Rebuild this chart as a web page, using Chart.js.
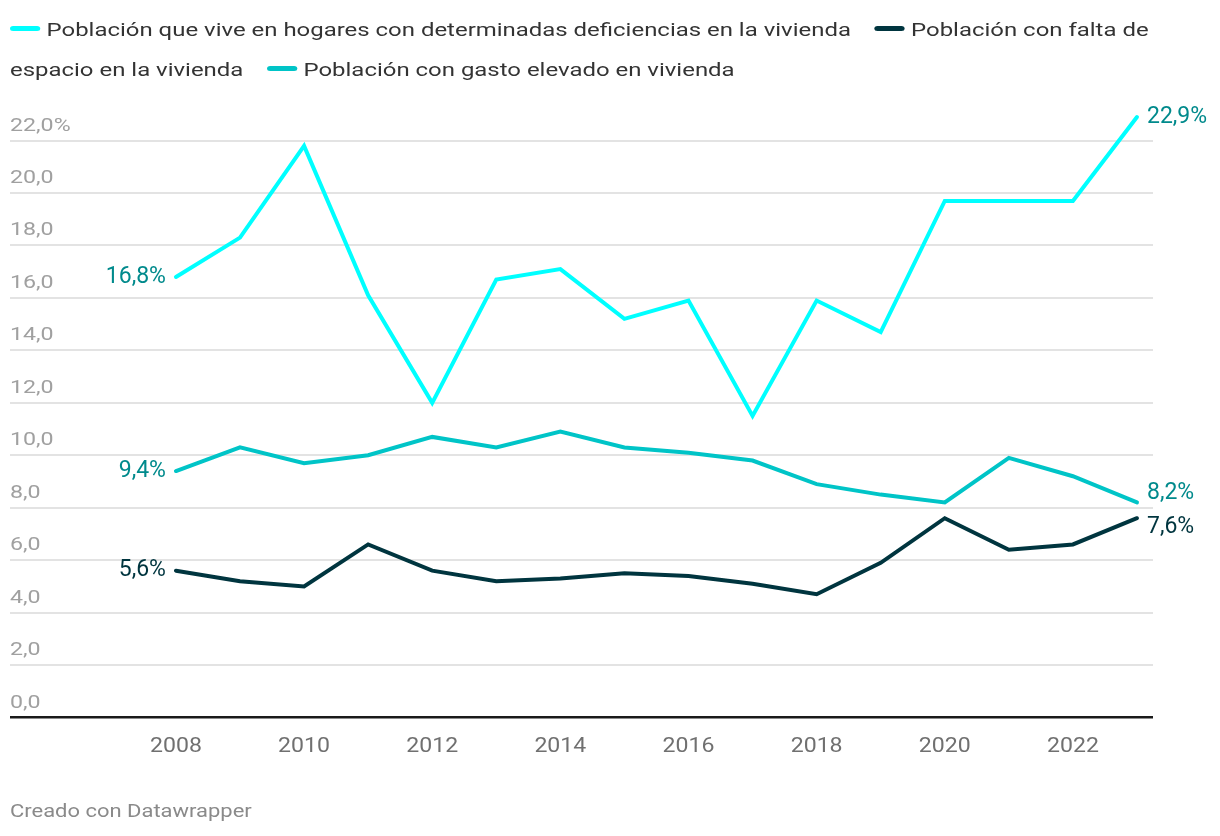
<!DOCTYPE html>
<html lang="es">
<head>
<meta charset="utf-8">
<script src="https://cdn.jsdelivr.net/npm/chart.js@4.4.1/dist/chart.umd.min.js"></script>
<style>
    html, body { margin: 0; padding: 0; background: #fff; }
    body { width: 1220px; height: 836px; position: relative; overflow: hidden; font-family: Roboto, "Noto Sans", sans-serif; }
    /* the original text runs wide, so the html text is stretched sideways */
    #legend { position: absolute; left: 10px; top: 10px; width: 952px; font-size: 19px; line-height: 40px; color: #333;
              transform: scaleX(1.26); transform-origin: 0 0; z-index: 2; }
    .item { margin-right: 14px; }
    .swatch { display: inline-block; width: 24px; height: 5px; border-radius: 3px; margin-right: 5px; position: relative; top: -5px; }
    #chart { position: absolute; left: 0; top: 0; }
    #footer { position: absolute; left: 10px; top: 800px; font-size: 18px; color: #8a8a8a;
              transform: scaleX(1.22); transform-origin: 0 0; }
</style>
</head>
<body>
<div id="legend"></div>
<canvas id="chart" width="1220" height="836"></canvas>
<div id="footer">Creado con Datawrapper</div>
<script>
// data
const years = [2008, 2009, 2010, 2011, 2012, 2013, 2014, 2015, 2016, 2017, 2018, 2019, 2020, 2021, 2022, 2023];
const deficiencias = [16.8, 18.3, 21.8, 16.1, 12.0, 16.7, 17.1, 15.2, 15.9, 11.5, 15.9, 14.7, 19.7, 19.7, 19.7, 22.9];
const faltaEspacio = [5.6, 5.2, 5.0, 6.6, 5.6, 5.2, 5.3, 5.5, 5.4, 5.1, 4.7, 5.9, 7.6, 6.4, 6.6, 7.6];
const gastoElevado = [9.4, 10.3, 9.7, 10.0, 10.7, 10.3, 10.9, 10.3, 10.1, 9.8, 8.9, 8.5, 8.2, 9.9, 9.2, 8.2];
const seriesNames = [
    'Población que vive en hogares con determinadas deficiencias en la vivienda',
    'Población con falta de espacio en la vivienda',
    'Población con gasto elevado en vivienda'
];
const yTicks = [0, 2, 4, 6, 8, 10, 12, 14, 16, 18, 20, 22];
const xTicks = [2008, 2010, 2012, 2014, 2016, 2018, 2020, 2022];

const lineColors = ['#00ffff', '#00353f', '#00c4c7'];
const labelColors = ['#008a8c', '#00353f', '#008a8c'];

const fmt = v => v.toFixed(1).replace('.', ',');

// html legend so the long names can wrap like the original
const legendEl = document.getElementById('legend');
seriesNames.forEach((name, i) => {
    const item = document.createElement('span');
    item.className = 'item';
    const sw = document.createElement('span');
    sw.className = 'swatch';
    sw.style.background = lineColors[i];
    item.appendChild(sw);
    item.appendChild(document.createTextNode(name));
    legendEl.appendChild(item);
    legendEl.appendChild(document.createTextNode(' '));
});

function drawStretched(ctx, text, x, y, align, sx) {
    ctx.save();
    ctx.translate(x, y);
    ctx.scale(sx, 1);
    ctx.textAlign = align;
    ctx.fillText(text, 0, 0);
    ctx.restore();
}

// tick labels, placed from the scales but drawn a bit wider like the original
const axisLabels = {
    id: 'axisLabels',
    afterDraw(chart) {
        const ctx = chart.ctx;
        const xs = chart.scales.x;
        const ys = chart.scales.y;
        ctx.save();
        ctx.textBaseline = 'alphabetic';
        ctx.font = '19px Roboto, "Noto Sans", sans-serif';
        ctx.fillStyle = '#a0a0a0';
        ys.ticks.forEach(t => {
            const txt = fmt(t.value) + (t.value === 22 ? '%' : '');
            drawStretched(ctx, txt, 10, ys.getPixelForValue(t.value) - 10, 'left', 1.22);
        });
        ctx.font = '21px Roboto, "Noto Sans", sans-serif';
        ctx.fillStyle = '#707070';
        xs.ticks.forEach(t => {
            drawStretched(ctx, String(t.value), xs.getPixelForValue(t.value), 752, 'center', 1.1);
        });
        ctx.restore();
    }
};

// first / last value labels, pushed apart when they collide
const endLabels = {
    id: 'endLabels',
    afterDatasetsDraw(chart) {
        const ctx = chart.ctx;
        ctx.save();
        ctx.font = '23px Roboto, "Noto Sans", sans-serif';
        ctx.textBaseline = 'middle';
        ['first', 'last'].forEach(side => {
            const items = chart.data.datasets.map((ds, i) => {
                const meta = chart.getDatasetMeta(i);
                const idx = side === 'first' ? 0 : ds.data.length - 1;
                const pt = meta.data[idx];
                return { x: pt.x, y: pt.y, text: fmt(ds.data[idx].y) + '%', color: labelColors[i] };
            }).sort((a, b) => a.y - b.y);
            const gap = 34;
            for (let k = 1; k < items.length; k++) {
                const d = items[k].y - items[k - 1].y;
                if (d < gap) {
                    const shift = (gap - d) / 2;
                    items[k - 1].y -= shift;
                    items[k].y += shift;
                }
            }
            items.forEach(it => {
                ctx.fillStyle = it.color;
                if (side === 'first') {
                    ctx.textAlign = 'right';
                    ctx.fillText(it.text, it.x - 10, it.y);
                } else {
                    ctx.textAlign = 'left';
                    ctx.fillText(it.text, it.x + 10, it.y);
                }
            });
        });
        ctx.restore();
    }
};

const series = [deficiencias, faltaEspacio, gastoElevado];

new Chart(document.getElementById('chart').getContext('2d'), {
    type: 'line',
    data: {
        datasets: series.map((vals, i) => ({
            label: seriesNames[i],
            data: years.map((y, k) => ({ x: y, y: vals[k] })),
            borderColor: lineColors[i],
            borderWidth: 4,
            borderCapStyle: 'round',
            pointRadius: 0,
            tension: 0,
            clip: false
        }))
    },
    options: {
        responsive: false,
        animation: false,
        layout: { padding: { left: 10, right: 67, top: 117, bottom: 0 } },
        plugins: {
            legend: { display: false },
            tooltip: { enabled: false }
        },
        scales: {
            x: {
                type: 'linear',
                min: 2005.41,
                max: 2023.25,
                grid: { display: false },
                border: { display: false },
                afterBuildTicks: scale => { scale.ticks = xTicks.map(v => ({ value: v })); },
                afterFit: scale => { scale.height = 118.5; },
                ticks: { display: false }
            },
            y: {
                min: 0,
                max: 22.9,
                afterBuildTicks: scale => { scale.ticks = yTicks.map(v => ({ value: v })); },
                afterFit: scale => { scale.width = 0; },
                border: { display: false },
                grid: {
                    drawTicks: false,
                    color: c => c.tick.value === 0 ? '#1a1a1a' : '#e3e3e3',
                    lineWidth: c => c.tick.value === 0 ? 2.5 : 2
                },
                ticks: { display: false }
            }
        }
    },
    plugins: [axisLabels, endLabels]
});
</script>
</body>
</html>
